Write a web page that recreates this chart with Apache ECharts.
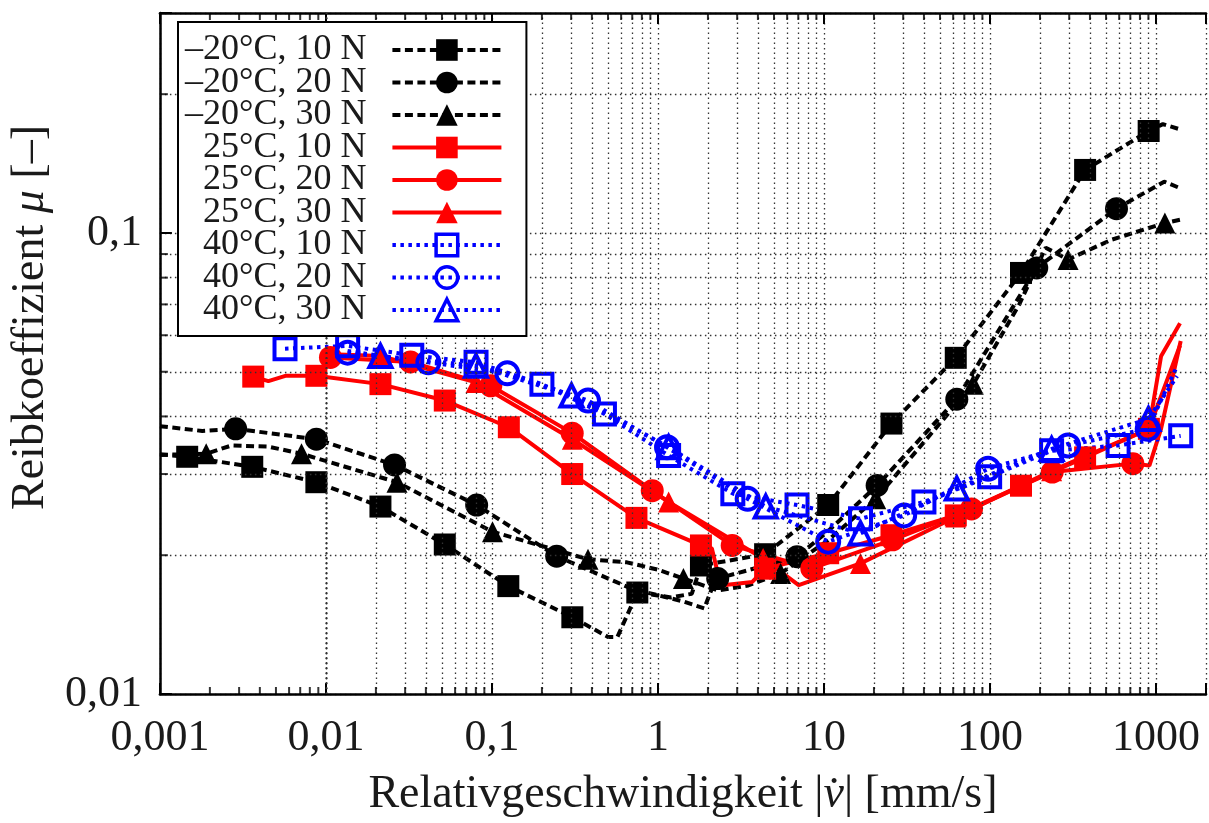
<!DOCTYPE html>
<html>
<head>
<meta charset="utf-8">
<script src="https://cdn.jsdelivr.net/npm/echarts@6/dist/echarts.min.js"></script>
<style>
  html, body { margin: 0; padding: 0; background: #ffffff; }
  #chart { width: 1209px; height: 823px; }
</style>
</head>
<body>
<div id="chart"></div>
<script>
// Friction coefficient vs. relative sliding velocity (log-log), 3 temperatures x 3 normal loads.
const FONT = '"Liberation Serif", "DejaVu Serif", serif';

const xTickLabels = ['0,001', '0,01', '0,1', '1', '10', '100', '1000'];
const yTickLabels = ['0,01', '0,1'];

const seriesNames = [
  '–20°C, 10 N', '–20°C, 20 N', '–20°C, 30 N',
  '25°C, 10 N', '25°C, 20 N', '25°C, 30 N',
  '40°C, 10 N', '40°C, 20 N', '40°C, 30 N'
];

// Each point: [velocity in mm/s, friction coefficient, 1 = draw marker / 0 = curve point only]
const cold10 = [
  [0.001, 0.0331, 0], [0.00146, 0.0327, 1], [0.0036, 0.0311, 1], [0.00876, 0.0288, 1],
  [0.0213, 0.0255, 1], [0.052, 0.0211, 1], [0.1255, 0.01714, 1], [0.305, 0.01467, 1],
  [0.40, 0.0139, 0], [0.50, 0.0133, 0], [0.57, 0.0133, 0], [0.751, 0.0166, 1],
  [1.2, 0.0162, 0], [1.6, 0.0165, 0], [1.815, 0.0190, 1], [4.42, 0.0201, 1],
  [10.6, 0.0257, 1], [25.5, 0.0386, 1], [62.2, 0.0536, 1], [153.7, 0.0819, 1],
  [374, 0.137, 1], [903, 0.1664, 1], [1100, 0.1722, 0], [1395, 0.1678, 0]
];
const cold20 = [
  [0.001, 0.0381, 0], [0.0018, 0.0372, 0], [0.00286, 0.0376, 1], [0.00876, 0.0357, 1],
  [0.0259, 0.0314, 1], [0.0809, 0.0257, 1], [0.2455, 0.0199, 1], [0.70, 0.0169, 0],
  [1.40, 0.0159, 0], [1.90, 0.01534, 0], [2.15, 0.0172, 0], [2.29, 0.0178, 1],
  [6.88, 0.01985, 1], [10.5, 0.0225, 0], [20.9, 0.02834, 1], [63.1, 0.0436, 1],
  [191.2, 0.0840, 1], [578, 0.1129, 1], [1120, 0.1292, 0], [1395, 0.1251, 0]
];
const cold30 = [
  [0.001, 0.0330, 0], [0.0019, 0.0332, 1], [0.0027, 0.0346, 0], [0.0045, 0.0344, 0],
  [0.00713, 0.0332, 1], [0.0268, 0.0288, 1], [0.1008, 0.02249, 1], [0.379, 0.0196, 1],
  [0.65, 0.0193, 0], [1.0, 0.0186, 0], [1.424, 0.01781, 1], [2.3, 0.01677, 0],
  [3.5, 0.0172, 0], [5.48, 0.01826, 1], [10.5, 0.0215, 0], [20.5, 0.02651, 1],
  [79.3, 0.0470, 1], [150, 0.0700, 0], [216.5, 0.0929, 0], [295.3, 0.0876, 1],
  [540, 0.0967, 0], [1131, 0.1051, 1], [1395, 0.1068, 0]
];
const warm10 = [
  [0.00365, 0.0488, 1], [0.0045, 0.0477, 0], [0.0057, 0.0490, 0], [0.00876, 0.0490, 1],
  [0.0213, 0.0470, 1], [0.052, 0.0433, 1], [0.1264, 0.0379, 1], [0.3045, 0.0300, 1],
  [0.742, 0.0241, 1], [1.815, 0.0210, 1], [2.11, 0.0207, 0], [2.39, 0.0172, 0],
  [3.70, 0.0175, 0], [4.42, 0.0187, 1], [10.6, 0.0202, 1], [25.5, 0.0221, 1],
  [62.2, 0.0244, 1], [153.7, 0.0283, 1], [374, 0.0326, 1], [906, 0.0376, 1],
  [1072, 0.0540, 0], [1395, 0.0637, 0]
];
const warm20 = [
  [0.01065, 0.0537, 1], [0.0323, 0.0525, 1], [0.0984, 0.0466, 1], [0.3045, 0.0368, 1],
  [0.924, 0.0276, 1], [2.80, 0.0210, 1], [8.45, 0.01872, 1], [25.9, 0.0216, 1],
  [77.4, 0.0252, 1], [237, 0.0303, 1], [725.5, 0.0316, 1], [912, 0.0313, 0],
  [1072, 0.0376, 0], [1408, 0.0583, 0]
];
const warm30 = [
  [0.012, 0.0545, 0], [0.0213, 0.0541, 1], [0.0802, 0.0474, 1], [0.305, 0.0357, 1],
  [1.159, 0.0261, 1], [4.30, 0.01967, 1], [7.04, 0.01723, 0], [16.6, 0.0192, 1],
  [62.2, 0.0242, 1], [235, 0.0305, 1], [906, 0.0376, 1], [1395, 0.0570, 0]
];
const hot10 = [
  [0.00567, 0.0561, 1], [0.01351, 0.0569, 1], [0.0329, 0.0543, 1], [0.0802, 0.0524, 1],
  [0.200, 0.0470, 1], [0.476, 0.0405, 1], [1.159, 0.0329, 1], [2.825, 0.0272, 1],
  [6.88, 0.0257, 1], [16.6, 0.0240, 1], [40.0, 0.0261, 1], [99.5, 0.0296, 1],
  [235, 0.0337, 1], [591, 0.0346, 1], [1408, 0.0363, 1]
];
const hot20 = [
  [0.01351, 0.0550, 1], [0.0414, 0.0524, 1], [0.1238, 0.0496, 1], [0.379, 0.0433, 1],
  [1.134, 0.0343, 1], [3.47, 0.0265, 1], [10.6, 0.0214, 1], [30.4, 0.0244, 1],
  [97.4, 0.0308, 1], [295.3, 0.0346, 1], [891, 0.0376, 1], [1339, 0.0514, 0]
];
const hot30 = [
  [0.0135, 0.0555, 0], [0.0213, 0.0541, 1], [0.0802, 0.0515, 1], [0.3015, 0.0444, 1],
  [1.159, 0.0343, 1], [4.46, 0.0255, 1], [16.6, 0.0223, 1], [63.1, 0.0279, 1],
  [235, 0.0340, 1], [900, 0.0395, 1], [1339, 0.0489, 0]
];

// Axis ranges and the intermediate (2..9) decade subdivisions used for the dotted grid
const X_MIN = 0.001, X_MAX = 2000;
const Y_MIN = 0.01, Y_MAX = 0.3;
const minorX = [];
for (let e = -3; e <= 3; e++) {
  for (let m = 2; m <= 9; m++) {
    const v = +(m * Math.pow(10, e)).toPrecision(6);
    if (v < X_MAX) minorX.push(v);
  }
}
const minorY = [];
for (let e = -2; e <= -1; e++) {
  for (let m = 2; m <= 9; m++) {
    const v = +(m * Math.pow(10, e)).toPrecision(6);
    if (v < Y_MAX) minorY.push(v);
  }
}

function decadeLabel(v, labels, firstExp) {
  const lg = Math.log10(v);
  const e = Math.round(lg);
  if (Math.abs(lg - e) > 1e-6) return '';
  return labels[e - firstExp] || '';
}

const BLACK = '#000000', RED = '#ff0000', BLUE = '#0000ff';
const DASH = [8, 4.5];
const DOT = [3.5, 4.5];

function curve(name, pts, color, symbol, size, dash, hollow) {
  return {
    type: 'line',
    name: name,
    data: pts.map(p => ({ value: [p[0], p[1]], symbol: p[2] ? symbol : 'none' })),
    symbol: symbol,
    symbolSize: size,
    showSymbol: true,
    showAllSymbol: true,
    lineStyle: { color: color, width: 4, type: dash },
    itemStyle: hollow
      ? { color: 'rgba(255,255,255,0)', borderColor: color, borderWidth: 4 }
      : { color: color, borderColor: color, borderWidth: 0 },
    emphasis: { disabled: true },
    animation: false
  };
}

const series = [
  curve(seriesNames[0], cold10, BLACK, 'rect', 22, DASH, false),
  curve(seriesNames[1], cold20, BLACK, 'circle', 23, DASH, false),
  curve(seriesNames[2], cold30, BLACK, 'triangle', 21, DASH, false),
  curve(seriesNames[3], warm10, RED, 'rect', 22, 'solid', false),
  curve(seriesNames[4], warm20, RED, 'circle', 23, 'solid', false),
  curve(seriesNames[5], warm30, RED, 'triangle', 21, 'solid', false),
  curve(seriesNames[6], hot10, BLUE, 'rect', 21, DOT, true),
  curve(seriesNames[7], hot20, BLUE, 'circle', 22, DOT, true),
  curve(seriesNames[8], hot30, BLUE, 'triangle', 22, DOT, true)
];

// legend entries: hollow 40°C markers keep a heavy outline in the key as well
const legendData = seriesNames.map((n, i) => i >= 6
  ? { name: n, itemStyle: { borderWidth: 3.5 } }
  : { name: n });

// dotted grid lines at the 2..9 subdivisions of every decade
const gridDots = { color: '#333', width: 1.3, type: [1.5, 3.5] };
series.unshift({
  type: 'line',
  name: 'minor-grid',
  data: [],
  silent: true,
  z: 1,
  markLine: {
    silent: true,
    symbol: 'none',
    animation: false,
    label: { show: false },
    lineStyle: gridDots,
    emphasis: { disabled: true },
    data: minorX.map(v => ({ xAxis: v })).concat(minorY.map(v => ({ yAxis: v })))
  }
});

// short inward minor tick marks on the bottom, top and left frame
function tickMarks(points, size, offset) {
  return {
    type: 'scatter',
    name: 'minor-ticks',
    data: points,
    symbol: 'rect',
    symbolSize: size,
    symbolOffset: offset,
    itemStyle: { color: '#000' },
    silent: true,
    clip: false,
    z: 5,
    animation: false
  };
}
series.push(tickMarks(minorX.map(v => [v, Y_MIN]), [2, 7], [0, -3.5]));
series.push(tickMarks(minorX.map(v => [v, Y_MAX]), [2, 7], [0, 3.5]));
series.push(tickMarks(minorY.map(v => [X_MIN, v]), [8, 2], [4, 0]));

const labelText = { fontFamily: FONT, fontSize: 44, color: '#1a1a1a' };

const chart = echarts.init(document.getElementById('chart'), null, { renderer: 'canvas' });
chart.setOption({
  animation: false,
  backgroundColor: '#ffffff',
  grid: { left: 153, top: 13, width: 1059, height: 683, containLabel: false },
  legend: {
    data: legendData,
    orient: 'vertical',
    left: 178,
    top: 22,
    align: 'right',
    itemWidth: 109,
    itemHeight: 27,
    itemGap: -3.5,
    padding: [10, 23, 8, 7],
    backgroundColor: '#ffffff',
    borderColor: '#000000',
    borderWidth: 2,
    borderRadius: 0,
    selectedMode: false,
    z: 10,
    lineStyle: { width: 4 },
    textStyle: {
      fontFamily: FONT,
      fontSize: 36,
      color: '#1a1a1a',
      padding: [0, 21, 0, 0]
    }
  },
  xAxis: [
    {
      type: 'log',
      logBase: 10,
      min: X_MIN,
      max: X_MAX,
      position: 'bottom',
      name: '{t|Relativgeschwindigkeit |}{i|v̇}{t|| [mm/s]}',
      nameLocation: 'middle',
      nameGap: 78,
      nameTextStyle: {
        rich: {
          t: { fontFamily: FONT, fontSize: 46, color: '#1a1a1a' },
          i: { fontFamily: FONT, fontSize: 46, fontStyle: 'italic', color: '#1a1a1a' }
        }
      },
      axisLine: { show: true, onZero: false, lineStyle: { color: '#000', width: 2.5 } },
      axisTick: { show: true, inside: true, length: 11, lineStyle: { color: '#000', width: 2 } },
      axisLabel: Object.assign({
        margin: 22,
        formatter: v => decadeLabel(v, xTickLabels, -3)
      }, labelText),
      splitLine: { show: true, lineStyle: gridDots },
      minorTick: { show: false },
      minorSplitLine: { show: false }
    },
    {
      type: 'log',
      logBase: 10,
      min: X_MIN,
      max: X_MAX,
      position: 'top',
      axisLine: { show: true, onZero: false, lineStyle: { color: '#000', width: 2.5 } },
      axisTick: { show: true, inside: true, length: 11, lineStyle: { color: '#000', width: 2 } },
      axisLabel: { show: false },
      splitLine: { show: false }
    }
  ],
  yAxis: {
    type: 'log',
    logBase: 10,
    min: Y_MIN,
    max: Y_MAX,
    name: '{t|Reibkoeffizient }{i|μ}{t| [–]}',
    nameLocation: 'middle',
    nameRotate: 90,
    nameGap: 104,
    nameTextStyle: {
      padding: [0, 0, 0, 72],
      rich: {
        t: { fontFamily: FONT, fontSize: 46, color: '#1a1a1a' },
        i: { fontFamily: FONT, fontSize: 46, fontStyle: 'italic', color: '#1a1a1a' }
      }
    },
    axisLine: { show: true, onZero: false, lineStyle: { color: '#000', width: 2.5 } },
    axisTick: { show: true, inside: true, length: 12, lineStyle: { color: '#000', width: 2 } },
    axisLabel: Object.assign({
      margin: 18,
      formatter: v => decadeLabel(v, yTickLabels, -2)
    }, labelText),
    splitLine: { show: true, lineStyle: gridDots }
  },
  series: series
});
</script>
</body>
</html>
